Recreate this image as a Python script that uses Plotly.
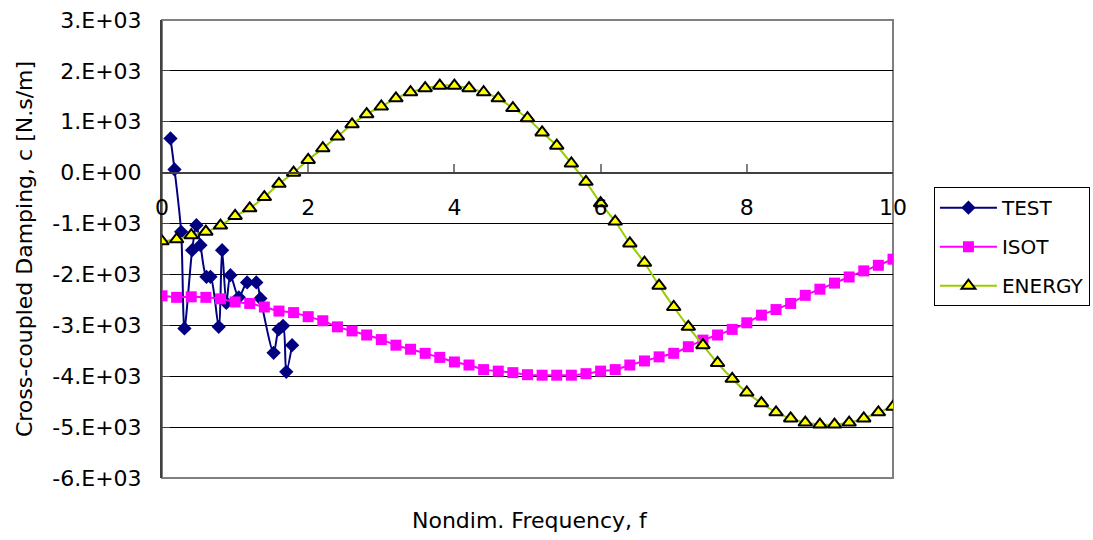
import plotly.graph_objects as go

# Nondimensional frequency grid used by the two analytical models
freq_model = [0.0, 0.2, 0.4, 0.6, 0.8, 1.0, 1.2, 1.4, 1.6, 1.8,
              2.0, 2.2, 2.4, 2.6, 2.8, 3.0, 3.2, 3.4, 3.6, 3.8,
              4.0, 4.2, 4.4, 4.6, 4.8, 5.0, 5.2, 5.4, 5.6, 5.8,
              6.0, 6.2, 6.4, 6.6, 6.8, 7.0, 7.2, 7.4, 7.6, 7.8,
              8.0, 8.2, 8.4, 8.6, 8.8, 9.0, 9.2, 9.4, 9.6, 9.8, 10.0]

# Isothermal model, cross-coupled damping [N.s/m]
isot = [-2420, -2450, -2440, -2450, -2480, -2540, -2570, -2640, -2720, -2750,
        -2830, -2910, -3030, -3110, -3190, -3280, -3390, -3470, -3550, -3630,
        -3720, -3780, -3870, -3900, -3930, -3970, -3980, -3980, -3980, -3950,
        -3900, -3870, -3780, -3700, -3620, -3550, -3420, -3290, -3190, -3080,
        -2950, -2800, -2690, -2570, -2410, -2290, -2170, -2050, -1930, -1820, -1700]

# Energy-equation model, cross-coupled damping [N.s/m]
energy = [-1350, -1310, -1230, -1160, -1040, -850, -700, -480, -220, 0,
          250, 480, 710, 950, 1150, 1300, 1460, 1580, 1660, 1710,
          1710, 1660, 1580, 1460, 1270, 1070, 790, 530, 180, -180,
          -600, -960, -1390, -1770, -2220, -2640, -3030, -3390, -3740, -4050,
          -4320, -4530, -4710, -4830, -4910, -4950, -4950, -4910, -4830, -4710, -4600]

# Measured test data
freq_test = [0.116, 0.171, 0.262, 0.307, 0.412, 0.471, 0.526, 0.608, 0.663, 0.776,
             0.822, 0.880, 0.936, 1.050, 1.164, 1.290, 1.346, 1.527, 1.596, 1.656,
             1.700, 1.780]
test = [672, 63, -1163, -3061, -1523, -1031, -1424, -2047, -2047, -3029,
        -1523, -2560, -2014, -2450, -2157, -2157, -2472, -3540, -3081, -3010,
        -3913, -3389]

x_ticks = [0, 2, 4, 6, 8, 10]
x_tick_text = ["0", "2", "4", "6", "8", "10"]
y_ticks = [3000, 2000, 1000, 0, -1000, -2000, -3000, -4000, -5000, -6000]
y_tick_text = ["3.E+03", "2.E+03", "1.E+03", "0.E+00", "-1.E+03", "-2.E+03",
               "-3.E+03", "-4.E+03", "-5.E+03", "-6.E+03"]

FONT = "DejaVu Sans"

fig = go.Figure()

fig.add_trace(go.Scatter(
    x=freq_test, y=test, name="TEST", mode="lines+markers", legendgroup="a",
    line=dict(color="#000080", width=2, shape="spline", smoothing=0.8),
    marker=dict(symbol="diamond", size=11, color="#000080"),
))
fig.add_trace(go.Scatter(
    x=freq_model, y=isot, name="ISOT", mode="lines+markers", legendgroup="b",
    line=dict(color="#FF00FF", width=2, shape="spline", smoothing=0.8),
    marker=dict(symbol="square", size=11, color="#FF00FF"),
))
fig.add_trace(go.Scatter(
    x=freq_model, y=energy, name="ENERGY", mode="lines+markers", legendgroup="c",
    line=dict(color="#99CC00", width=2, shape="spline", smoothing=0.8),
    marker=dict(symbol="triangle-up", size=12, color="#FFFF00",
                line=dict(color="#000000", width=2)),
))

fig.update_layout(
    width=1093, height=540,
    margin=dict(l=162, r=200, t=20, b=62, autoexpand=False),
    paper_bgcolor="white", plot_bgcolor="white",
    font=dict(family=FONT, size=22, color="black"),
    showlegend=True,
    legend=dict(
        x=1.056, y=0.635, xanchor="left", yanchor="top",
        bgcolor="white", bordercolor="black", borderwidth=1,
        font=dict(family=FONT, size=20, color="black"),
        itemwidth=57, tracegroupgap=10,
    ),
    xaxis=dict(
        range=[0, 10], anchor="free", position=6 / 9,
        tickmode="array", tickvals=x_ticks, ticktext=x_tick_text,
        ticks="inside", ticklen=8, tickcolor="#808080", tickwidth=2,
        ticklabelstandoff=15,
        showline=True, linecolor="#404040", linewidth=2,
        showgrid=False, zeroline=False,
        tickfont=dict(family=FONT, size=22),
    ),
    yaxis=dict(
        range=[-6000, 3000],
        tickmode="array", tickvals=y_ticks, ticktext=y_tick_text,
        ticks="inside", ticklen=8, tickcolor="#404040", tickwidth=1,
        ticklabelstandoff=14,
        showline=True, linecolor="#404040", linewidth=2,
        showgrid=True, gridcolor="black", gridwidth=1,
        zeroline=False,
        tickfont=dict(family=FONT, size=22),
        title=dict(text="Cross-coupled Damping, c [N.s/m]",
                   font=dict(family=FONT, size=22), standoff=14),
    ),
    shapes=[
        # plot-area frame
        dict(type="rect", xref="paper", yref="paper", x0=0, x1=1, y0=0, y1=1,
             line=dict(color="#808080", width=2), layer="between"),
    ],
    annotations=[
        dict(text="Nondim. Frequency, f", xref="paper", yref="paper",
             x=0.503, y=-0.092, xanchor="center", yanchor="middle",
             showarrow=False, font=dict(family=FONT, size=22)),
    ],
)

fig.write_html("out.html")
